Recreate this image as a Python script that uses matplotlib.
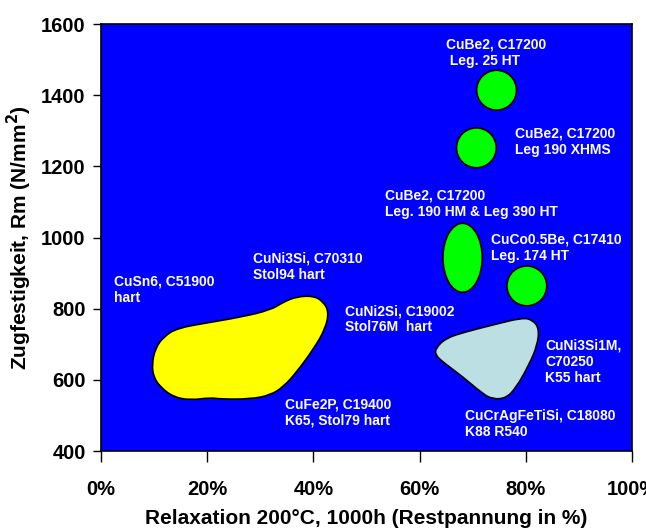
import numpy as np
import matplotlib
matplotlib.use("Agg")
import matplotlib.pyplot as plt
from matplotlib.patches import Ellipse, PathPatch
from matplotlib.path import Path

plt.rcParams['font.family'] = ['Liberation Sans', 'DejaVu Sans']
plt.rcParams['font.weight'] = 'bold'

# Werkstoffe mit engem Bereich (Ellipsen): Relaxation in %, Rm in N/mm2
ell_x = [74.5, 70.7, 68.1, 80.2]
ell_y = [1414, 1252, 943, 864]
ell_w = [7.5, 7.5, 7.4, 7.5]
ell_h = [112, 112, 194, 112]

# Umriss CuSn6 / CuNi3Si / CuFe2P / CuNi2Si (gelb)
yellow_x = [9.6, 10.2, 11.8, 14.3, 19.9, 26.2, 31.9, 34.4, 36.9, 40.1, 41.9, 42.9,
            42.3, 40.1, 36.9, 34.4, 31.9, 28.1, 22.5, 20.6, 16.8, 13.6, 11.1, 9.9]
yellow_y = [642, 688, 721, 745, 760, 776, 796, 819, 834, 836, 819, 791,
            745, 688, 623, 581, 557, 546, 546, 550, 543, 552, 581, 609]

# Umriss CuCrAgFeTiSi / CuNi3Si1M (hellgrau)
grey_x = [63.0, 64.9, 68.7, 73.7, 79.4, 81.3, 82.5, 82.2, 80.6, 78.1, 76.2, 73.7,
          71.8, 68.1, 64.3, 63.0]
grey_y = [688, 717, 735, 754, 775, 768, 745, 698, 642, 576, 548, 546,
          562, 609, 651, 670]

labels = [
    "CuBe2, C17200\n Leg. 25 HT",
    "CuBe2, C17200\nLeg 190 XHMS",
    "CuBe2, C17200\nLeg. 190 HM & Leg 390 HT",
    "CuCo0.5Be, C17410\nLeg. 174 HT",
    "CuNi3Si, C70310\nStol94 hart",
    "CuSn6, C51900\nhart",
    "CuNi2Si, C19002\nStol76M  hart",
    "CuNi3Si1M,\nC70250\nK55 hart",
    "CuFe2P, C19400\nK65, Stol79 hart",
    "CuCrAgFeTiSi, C18080\nK88 R540",
]
# linke obere Ecke der Beschriftungen (Datenkoordinaten)
label_pos = [(64.9, 1561), (78.0, 1312), (53.5, 1137), (73.4, 1013), (28.7, 961),
             (2.5, 895), (45.9, 813), (83.6, 715), (34.6, 551), (68.5, 519)]

x_ticks = [0, 20, 40, 60, 80, 100]
y_ticks = [400, 600, 800, 1000, 1200, 1400, 1600]


def smooth_blob(xs, ys):
    # geschlossene quadratische B-Spline-Kurve durch die Kontrollpunkte
    pts = np.column_stack([xs, ys])
    n = len(pts)
    mids = (pts + np.roll(pts, -1, axis=0)) / 2
    verts = [mids[-1]]
    codes = [Path.MOVETO]
    for i in range(n):
        verts += [pts[i], mids[i]]
        codes += [Path.CURVE3, Path.CURVE3]
    return Path(verts, codes)


fig = plt.figure(figsize=(6.46, 5.30), dpi=100)
ax = fig.add_axes([0.1563, 0.149, 0.822, 0.8057])
ax.set_facecolor('#0000FF')

ax.add_patch(PathPatch(smooth_blob(yellow_x, yellow_y), facecolor='#FFFF00',
                       edgecolor='black', lw=1.2))
ax.add_patch(PathPatch(smooth_blob(grey_x, grey_y), facecolor='#BBDFE2',
                       edgecolor='black', lw=1.2))

for x, y, w, h in zip(ell_x, ell_y, ell_w, ell_h):
    ax.add_patch(Ellipse((x, y), w, h, facecolor='#00FF00', edgecolor='black', lw=1.2))

for txt, (x, y) in zip(labels, label_pos):
    ax.text(x, y, txt, color='white', fontsize=10, fontweight='bold',
            ha='left', va='top', linespacing=1.2)

ax.set_xlim(0, 100)
ax.set_ylim(400, 1600)
ax.set_xticks(x_ticks)
ax.set_xticklabels([f"{t}%" for t in x_ticks])
ax.set_yticks(y_ticks)
ax.tick_params(axis='x', length=8, width=1, pad=13, labelsize=14.5)
ax.tick_params(axis='y', length=6, width=1, pad=5, labelsize=14.5)
for lab in ax.get_xticklabels() + ax.get_yticklabels():
    lab.set_fontweight('bold')
for s in ax.spines.values():
    s.set_linewidth(1.2)

ax.set_xlabel("Relaxation 200°C, 1000h (Restpannung in %)", fontsize=15,
              fontweight='bold', labelpad=7)
ax.set_ylabel("Zugfestigkeit, Rm (N/mm$^\\mathbf{2}$)", fontsize=15,
              fontweight='bold', labelpad=5)

fig.savefig("out.png", dpi=100)
